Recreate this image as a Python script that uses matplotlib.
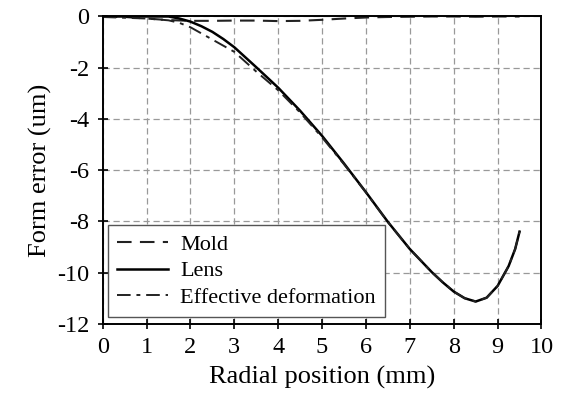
import numpy as np
from matplotlib import pyplot as plt

# values
mold_x = [0, 0.5, 1.0, 1.5, 2.0, 2.5, 3.0, 3.5, 4.0, 4.5, 5.0, 5.5, 6.0, 6.5, 7.0, 7.5, 8.0, 8.5, 9.0, 9.5]
mold_y = [0, -0.02, -0.08, -0.14, -0.17, -0.17, -0.16, -0.16, -0.18, -0.17, -0.13, -0.08, -0.04, -0.02, -0.01, 0, 0, -0.01, 0, 0]

lens_x = [0, 1.0, 1.5, 1.75, 2.0, 2.25, 2.5, 2.75, 3.0, 3.5, 4.0, 4.5, 5.0, 5.5, 6.0, 6.5, 7.0, 7.5,
          7.75, 8.0, 8.25, 8.5, 8.75, 9.0, 9.25, 9.4, 9.5]
lens_y = [0, 0, 0, -0.08, -0.2, -0.38, -0.6, -0.88, -1.2, -1.98, -2.78, -3.68, -4.66, -5.74, -6.86, -8.02, -9.08, -9.98,
          -10.38, -10.74, -11.0, -11.13, -10.98, -10.52, -9.75, -9.08, -8.4]

eff_x = [0, 0.5, 1.0, 1.5, 1.75, 2.0, 2.5, 3.0, 3.5, 4.0, 4.5, 5.0, 5.5, 6.0, 6.5, 7.0, 7.5,
         7.75, 8.0, 8.25, 8.5, 8.75, 9.0, 9.25, 9.4, 9.5]
eff_y = [-0.02, -0.05, -0.08, -0.15, -0.25, -0.42, -0.9, -1.38, -2.15, -2.88, -3.75, -4.72, -5.77, -6.87, -8.03, -9.08, -9.98,
         -10.38, -10.74, -11.0, -11.13, -10.98, -10.52, -9.75, -9.08, -8.4]

x_ticks = np.arange(0, 11, 1)
y_ticks = np.arange(-12, 1, 2)

plt.rcParams['font.family'] = ['Liberation Serif', 'DejaVu Serif']
plt.rcParams['axes.unicode_minus'] = False

fig = plt.figure(figsize=(5.67, 4.12), dpi=100)
ax = fig.add_axes([0.181, 0.214, 0.774, 0.746])

ax.plot(mold_x, mold_y, color="#222222", lw=1.5, dashes=(7, 4), label="Mold")
ax.plot(lens_x, lens_y, color="black", lw=1.8, label="Lens")
ax.plot(eff_x, eff_y, color="#222222", lw=1.4, dashes=(7, 3, 2, 3), label="Effective deformation")

ax.set_xlim(0, 10)
ax.set_ylim(-12, 0)
ax.set_xticks(x_ticks)
ax.set_yticks(y_ticks)
ax.grid(True, color="#999999", linestyle=(0, (5, 3)), lw=0.9)
ax.tick_params(direction="inout", length=7, width=1.2, labelsize=17.5, pad=6)
for s in ax.spines.values():
    s.set_linewidth(1.4)

ax.set_xlabel("Radial position (mm)", fontsize=19, labelpad=6)
ax.set_ylabel("Form error (um)", fontsize=19, labelpad=4)

leg = ax.legend(loc="lower left", bbox_to_anchor=(0.0125, 0.022), fontsize=16, handlelength=2.3,
                fancybox=False, framealpha=1, edgecolor="#555555", borderpad=0.4,
                labelspacing=0.28, handletextpad=0.55, borderaxespad=0)
leg.get_frame().set_linewidth(1.0)

fig.savefig("out.png", dpi=100)
